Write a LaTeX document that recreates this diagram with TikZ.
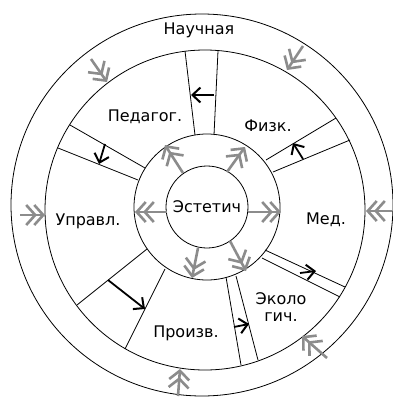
\documentclass[tikz,border=0pt]{standalone}
\usepackage{fontspec}
\setmainfont{DejaVu Sans}
\usetikzlibrary{arrows.meta}

\begin{document}
\begin{tikzpicture}[x=1pt, y=-1pt,
    rim/.style={draw, line width=0.8pt},
    wall/.style={line width=0.8pt},
    lbl/.style={font=\fontsize{16}{17}\selectfont, inner sep=0pt, align=center},
    flow/.style={-{Straight Barb[length=8pt, width=15pt, line width=2pt]}, line width=1.8pt},
    feather/.style={-{Straight Barb[length=9pt, width=20pt, sep=-4pt]
                      Straight Barb[length=9pt, width=20pt]},
                    line width=2.6pt, draw=black!45}
  ]
    \useasboundingbox (0,0) rectangle (393,397);
    % Rings
    \draw[rim] (202,205) circle[radius=191];
    \draw[rim] (205,210) circle[radius=160];
    \draw[rim] (207,207) circle[radius=73];
    \node[rim, circle, minimum size=82pt, inner sep=0pt, lbl] (estet) at (207,207) {Эстетич};
    % Channels between sectors
    \draw[wall] (185,51) -- (195,135);  \draw[wall] (218,51) -- (214,135);
    \draw[wall] (70,125) -- (145,168);  \draw[wall] (58,148) -- (138,180);
    \draw[wall] (266,160) -- (336,118); \draw[wall] (273,172) -- (350,140);
    \draw[wall] (265,250) -- (345,287); \draw[wall] (262,258) -- (340,297);
    \draw[wall] (226,277) -- (241,365); \draw[wall] (236,276) -- (258,360);
    \draw[wall] (147,249) -- (77,305);  \draw[wall] (165,269) -- (125,349);
    % Sector labels
    \node[lbl] (nauch) at (199,30) {Научная};
    \node[lbl] (pedag) at (145,117) {Педагог.};
    \node[lbl] (fizk) at (268,126) {Физк.};
    \node[lbl] (uprav) at (88,221) {Управл.};
    \node[lbl] (med) at (326,220) {Мед.};
    \node[lbl] (ekol) at (281,307) {Эколо\\гич.};
    \node[lbl] (proizv) at (186,333) {Произв.};
    % Gray arrows out of the centre
    \foreach \n/\s/\t in {1/{183,173}/{165,145}, 2/{227,172}/{245,147},
                          3/{167,212}/{135,212}, 4/{248,212}/{281,212},
                          5/{198,248}/{192,278}, 6/{230,241}/{246,271}} {
      \coordinate (in\n-s) at (\s);
      \coordinate (in\n-t) at (\t);
      \draw[feather] (in\n-s) -- (in\n-t);
    }
    % Gray arrows from the outer ring
    \foreach \n/\s/\t in {1/{91,59}/{107,82}, 2/{303,46}/{287,70},
                          3/{392,211}/{366,211}, 4/{327,358}/{302,336},
                          5/{178,396}/{180,369}, 6/{20,215}/{45,215}} {
      \coordinate (out\n-s) at (\s);
      \coordinate (out\n-t) at (\t);
      \draw[feather] (out\n-s) -- (out\n-t);
    }
    % Black arrows across the channels
    \foreach \n/\s/\t in {1/{214,95}/{191,95}, 2/{105,144}/{99,164},
                          3/{303,159}/{293,143}, 4/{300,273}/{316,271},
                          5/{234,327}/{249,324}, 6/{108,280}/{145,309}} {
      \coordinate (ch\n-s) at (\s);
      \coordinate (ch\n-t) at (\t);
      \draw[flow] (ch\n-s) -- (ch\n-t);
    }
\end{tikzpicture}
\end{document}
